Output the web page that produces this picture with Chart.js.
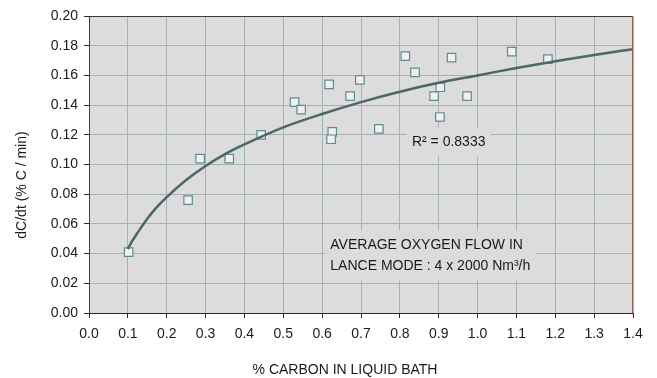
<!DOCTYPE html>
<html>
<head>
<meta charset="utf-8">
<script src="https://cdn.jsdelivr.net/npm/chart.js@4"></script>
<style>
  html, body { margin: 0; padding: 0; background: #fff; }
  #wrap { width: 657px; height: 378px; }
</style>
</head>
<body>
<div id="wrap"><canvas id="graphique" width="657" height="378"></canvas></div>
<script>
// measured points: % carbon in bath vs decarburisation rate
var carbonX = [0.102, 0.255, 0.286, 0.361, 0.443, 0.529, 0.546, 0.618, 0.626, 0.623, 0.672,
               0.697, 0.746, 0.814, 0.839, 0.888, 0.904, 0.903, 0.933, 0.973, 1.088, 1.181];
var rateY   = [0.041, 0.076, 0.104, 0.104, 0.120, 0.142, 0.137, 0.154, 0.122, 0.117, 0.146,
               0.157, 0.124, 0.173, 0.162, 0.146, 0.152, 0.132, 0.172, 0.146, 0.176, 0.171];

// trend line (log fit)
var trendX = [0.10, 0.11, 0.12, 0.13, 0.15, 0.17, 0.20, 0.25, 0.30, 0.35, 0.40, 0.50, 0.60, 0.70,
              0.80, 0.90, 1.00, 1.10, 1.20, 1.30, 1.40];
var trendY = [0.043, 0.048, 0.052, 0.056, 0.0635, 0.070, 0.078, 0.0895, 0.099, 0.107, 0.1135, 0.125,
              0.134, 0.142, 0.149, 0.155, 0.160, 0.165, 0.1695, 0.1737, 0.1777];

var r2Label = "R\u00b2 = 0.8333";
var noteLines = ["AVERAGE OXYGEN FLOW IN", "LANCE MODE : 4 x 2000 Nm\u00b3/h"];
var xTitle = "% CARBON IN LIQUID BATH";
var yTitle = "dC/dt (% C / min)";

var font = "14px 'Liberation Sans', Arial, sans-serif";
var plotBg = "#dcdcdc";

function toPoints(xs, ys) {
    let pts = [];
    for (let i = 0; i < xs.length; i++) {
        pts.push({x: xs[i], y: ys[i]});
    }
    return pts;
}

// gray plot area + top/right frame
var fondPlugin = {
    id: 'fond',
    beforeDraw(chart) {
        let a = chart.chartArea;
        let ctx = chart.ctx;
        ctx.save();
        ctx.fillStyle = plotBg;
        ctx.fillRect(a.left, a.top, a.right - a.left, a.bottom - a.top);
        ctx.restore();
    },
    afterDraw(chart) {
        let a = chart.chartArea;
        let ctx = chart.ctx;
        ctx.save();
        ctx.lineWidth = 1;
        ctx.strokeStyle = "#3a3a3a";
        ctx.beginPath();
        ctx.moveTo(a.left, a.top + 0.5);
        ctx.lineTo(a.right, a.top + 0.5);
        ctx.stroke();
        ctx.strokeStyle = "#8a6358";
        ctx.beginPath();
        ctx.moveTo(a.right - 0.5, a.top);
        ctx.lineTo(a.right - 0.5, a.bottom);
        ctx.stroke();

        // axis titles
        ctx.fillStyle = "#1a1a1a";
        ctx.font = font;
        ctx.textAlign = "center";
        ctx.textBaseline = "middle";
        ctx.fillText(xTitle, 345, 370);
        ctx.translate(22, 185);
        ctx.rotate(-Math.PI / 2);
        ctx.fillText(yTitle, 0, 0);
        ctx.restore();
    }
};

// text boxes inside the plot (cover the grid like the original)
function textBox(ctx, lines, x, y, lineH) {
    ctx.font = font;
    let w = 0;
    for (let l of lines) w = Math.max(w, ctx.measureText(l).width);
    ctx.fillStyle = plotBg;
    ctx.fillRect(x - 5, y - lineH / 2 - 4, w + 10, lineH * lines.length + 8);
    ctx.fillStyle = "#1a1a1a";
    ctx.textAlign = "left";
    ctx.textBaseline = "middle";
    for (let i = 0; i < lines.length; i++) {
        ctx.fillText(lines[i], x, y + i * lineH);
    }
}

var notesPlugin = {
    id: 'notes',
    beforeDatasetsDraw(chart) {
        let sx = chart.scales.x, sy = chart.scales.y;
        let ctx = chart.ctx;
        ctx.save();
        textBox(ctx, [r2Label], sx.getPixelForValue(0.831), sy.getPixelForValue(0.1148), 20);
        textBox(ctx, noteLines, sx.getPixelForValue(0.621), sy.getPixelForValue(0.0458), 21);
        ctx.restore();
    }
};

var ctx = document.getElementById("graphique").getContext("2d");
var myChart = new Chart(ctx, {
    type: 'scatter',
    data: {
        datasets: [{
            label: 'trend',
            data: toPoints(trendX, trendY),
            showLine: true,
            borderColor: '#4d6668',
            borderWidth: 2.5,
            pointRadius: 0,
            cubicInterpolationMode: 'monotone',
            order: 0
        }, {
            label: 'dC/dt',
            data: toPoints(carbonX, rateY),
            pointStyle: 'rect',
            pointRadius: 6,
            pointBorderWidth: 1.2,
            borderColor: '#5e8c92',
            backgroundColor: '#f0f0f0',
            order: 1
        }]
    },
    options: {
        responsive: false,
        animation: false,
        events: [],
        layout: { padding: { top: 16, right: 24, left: 0, bottom: 0 } },
        plugins: {
            legend: { display: false },
            tooltip: { enabled: false }
        },
        scales: {
            x: {
                type: 'linear',
                min: 0, max: 1.4,
                afterFit: function(s) { s.height = 65; },
                border: { color: '#2a2a2a', width: 1 },
                grid: { color: '#a7b2b5', tickColor: '#2a2a2a', tickLength: 5, lineWidth: 1 },
                ticks: {
                    stepSize: 0.1,
                    padding: 8,
                    color: '#1a1a1a',
                    font: { family: "'Liberation Sans', Arial, sans-serif", size: 14 },
                    maxRotation: 0,
                    callback: function(v) { return v.toFixed(1); }
                }
            },
            y: {
                min: 0, max: 0.2,
                afterFit: function(s) { s.width = 89; },
                border: { color: '#4a3a36', width: 1 },
                grid: { color: '#a7b2b5', tickColor: '#2a2a2a', tickLength: 5, lineWidth: 1 },
                ticks: {
                    stepSize: 0.02,
                    padding: 6,
                    color: '#1a1a1a',
                    font: { family: "'Liberation Sans', Arial, sans-serif", size: 14 },
                    callback: function(v) { return v.toFixed(2); }
                }
            }
        }
    },
    plugins: [fondPlugin, notesPlugin]
});
</script>
</body>
</html>
